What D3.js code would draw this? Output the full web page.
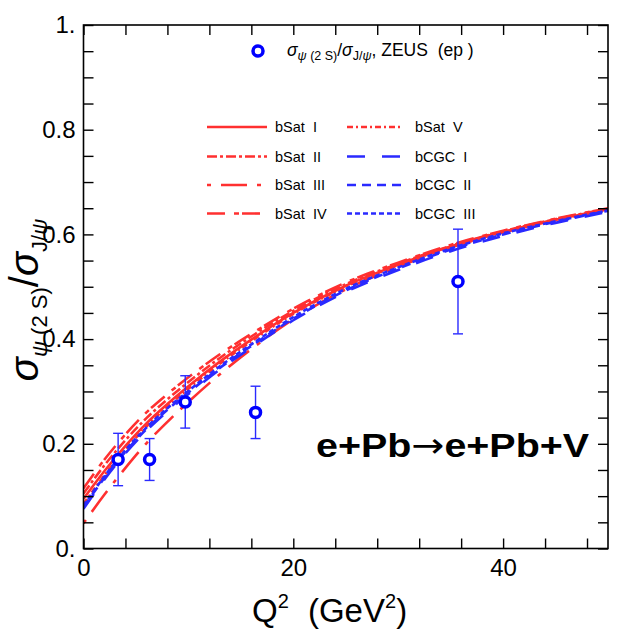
<!DOCTYPE html>
<html>
<head>
<meta charset="utf-8">
<script src="https://cdn.jsdelivr.net/npm/d3@7"></script>
<style>
  body { margin: 0; background: #fff; }
  svg { font-family: "Liberation Sans", Arial, sans-serif; }
</style>
</head>
<body>
<div id="chart"></div>
<script>
// Q^2 grid for the model curves
var q2 = [0, 2, 4, 6, 8, 10, 13, 16, 20, 25, 30, 35, 40, 45, 50];

var bSatI   = [0.095, 0.148, 0.196, 0.239, 0.276, 0.310, 0.357, 0.399, 0.450, 0.502, 0.542, 0.577, 0.605, 0.628, 0.648];
var bSatII  = [0.105, 0.159, 0.207, 0.249, 0.285, 0.318, 0.364, 0.405, 0.454, 0.505, 0.544, 0.578, 0.606, 0.629, 0.649];
var bSatIII = [0.048, 0.103, 0.154, 0.201, 0.242, 0.280, 0.333, 0.381, 0.438, 0.495, 0.538, 0.575, 0.604, 0.628, 0.648];
var bSatIV  = [0.115, 0.170, 0.218, 0.260, 0.295, 0.327, 0.371, 0.410, 0.458, 0.508, 0.546, 0.580, 0.607, 0.630, 0.650];
var bSatV   = [0.085, 0.140, 0.189, 0.233, 0.271, 0.305, 0.353, 0.396, 0.448, 0.500, 0.541, 0.576, 0.604, 0.627, 0.647];
var bCGCI   = [0.076, 0.132, 0.182, 0.225, 0.262, 0.295, 0.342, 0.384, 0.436, 0.490, 0.532, 0.568, 0.597, 0.622, 0.643];
var bCGCII  = [0.079, 0.135, 0.185, 0.228, 0.265, 0.298, 0.345, 0.387, 0.439, 0.493, 0.535, 0.571, 0.600, 0.624, 0.645];
var bCGCIII = [0.082, 0.138, 0.188, 0.231, 0.268, 0.301, 0.348, 0.390, 0.442, 0.496, 0.537, 0.573, 0.602, 0.625, 0.646];

var seriesNames = ["bSat  I", "bSat  II", "bSat  III", "bSat  IV", "bSat  V", "bCGC  I", "bCGC  II", "bCGC  III"];
var seriesValues = [bSatI, bSatII, bSatIII, bSatIV, bSatV, bCGCI, bCGCII, bCGCIII];

// ZEUS ep points
var zeusQ2  = [3.3, 6.3, 9.7, 16.4, 35.7];
var zeusR   = [0.17, 0.17, 0.28, 0.26, 0.51];
var zeusErr = [0.05, 0.04, 0.05, 0.05, 0.10];

var xTicks = [0, 4, 8, 12, 16, 20, 24, 28, 32, 36, 40, 44, 48];
var xLabels = [0, 20, 40];
var yTicks = d3.range(0, 21).map(function (i) { return i * 0.05; });
var yLabels = { "0": "0.", "0.2": "0.2", "0.4": "0.4", "0.6": "0.6", "0.8": "0.8", "1": "1." };

var red = "#ff3030", blue = "#2a2aff";
var colors = [red, red, red, red, red, blue, blue, blue];
var dashes = ["none", "10,3,3,3", "4,10,26,10", "18,9,5,3", "6,3,2,3", "18,17", "9,6", "5,3"];

var W = 638, H = 632;
var svg = d3.select("#chart").append("svg").attr("width", W).attr("height", H);

var x = d3.scaleLinear().domain([0, 50]).range([83.5, 608]);
var y = d3.scaleLinear().domain([0, 1]).range([548.5, 25]);

// curves
var line = d3.line()
	.x(function (d) { return x(d[0]); })
	.y(function (d) { return y(d[1]); })
	.curve(d3.curveMonotoneX);

svg.append("defs").append("clipPath").attr("id", "clip")
	.append("rect").attr("x", x(0)).attr("y", y(1)).attr("width", x(50) - x(0)).attr("height", y(0) - y(1));

var plot = svg.append("g").attr("clip-path", "url(#clip)");
seriesValues.forEach(function (vals, i) {
	plot.append("path")
		.datum(q2.map(function (q, j) { return [q, vals[j]]; }))
		.attr("d", line)
		.attr("fill", "none")
		.attr("stroke", colors[i])
		.attr("stroke-width", 2.6)
		.attr("stroke-dasharray", dashes[i]);
});

// data points with error bars
var pts = svg.append("g");
zeusQ2.forEach(function (q, i) {
	var cx = x(q);
	pts.append("line").attr("x1", cx).attr("x2", cx)
		.attr("y1", y(zeusR[i] - zeusErr[i])).attr("y2", y(zeusR[i] + zeusErr[i]))
		.attr("stroke", blue).attr("stroke-width", 1.4);
	[zeusR[i] - zeusErr[i], zeusR[i] + zeusErr[i]].forEach(function (v) {
		pts.append("line").attr("x1", cx - 5).attr("x2", cx + 5)
			.attr("y1", y(v)).attr("y2", y(v))
			.attr("stroke", blue).attr("stroke-width", 1.4);
	});
	pts.append("circle").attr("cx", cx).attr("cy", y(zeusR[i])).attr("r", 5)
		.attr("fill", "white").attr("stroke", "#0000ff").attr("stroke-width", 3.5);
});

// axes, ticks pointing inward
var fmtX = function (d) { return xLabels.indexOf(d) >= 0 ? d : ""; };
var fmtY = function (d) { var k = String(+d.toFixed(2)); return yLabels[k] || ""; };

svg.append("g").attr("transform", "translate(0," + y(0) + ")")
	.call(d3.axisBottom(x).tickValues(xTicks).tickSizeInner(-10).tickSizeOuter(0).tickPadding(10).tickFormat(fmtX));
svg.append("g").attr("transform", "translate(0," + y(1) + ")")
	.call(d3.axisTop(x).tickValues(xTicks).tickSizeInner(-10).tickSizeOuter(0).tickFormat(""));
svg.append("g").attr("transform", "translate(" + x(0) + ",0)")
	.call(d3.axisLeft(y).tickValues(yTicks).tickSizeInner(-10).tickSizeOuter(0).tickPadding(8).tickFormat(fmtY));
svg.append("g").attr("transform", "translate(" + x(50) + ",0)")
	.call(d3.axisRight(y).tickValues(yTicks).tickSizeInner(-10).tickSizeOuter(0).tickFormat(""));

svg.selectAll(".domain").remove();
svg.selectAll(".tick line").attr("stroke", "#000").attr("stroke-width", 1.4);
svg.selectAll(".tick text").attr("font-size", 24).attr("fill", "#000")
	.attr("font-family", "'Liberation Sans', Arial, sans-serif");

svg.append("rect").attr("x", x(0)).attr("y", y(1))
	.attr("width", x(50) - x(0)).attr("height", y(0) - y(1))
	.attr("fill", "none").attr("stroke", "#000").attr("stroke-width", 1.6);

// axis titles
var xt = svg.append("text").attr("x", 252).attr("y", 622).attr("font-size", 33)
	.attr("xml:space", "preserve");
xt.append("tspan").text("Q");
xt.append("tspan").attr("font-size", 20).attr("dy", -14).text("2");
xt.append("tspan").attr("dy", 14).attr("dx", 10).text(" (GeV");
xt.append("tspan").attr("font-size", 20).attr("dy", -14).text("2");
xt.append("tspan").attr("dy", 14).text(")");

var yt = svg.append("text").attr("transform", "translate(38,300) rotate(-90)")
	.attr("text-anchor", "middle").attr("font-size", 40).attr("xml:space", "preserve");
yt.append("tspan").attr("font-style", "italic").text("σ");
yt.append("tspan").attr("font-size", 22).attr("dy", 9).attr("font-style", "italic").text("ψ");
yt.append("tspan").attr("font-size", 22).text(" (2 S)");
yt.append("tspan").attr("dy", -9).text("/");
yt.append("tspan").attr("font-style", "italic").text("σ");
yt.append("tspan").attr("font-size", 22).attr("dy", 9).text("J/");
yt.append("tspan").attr("font-size", 22).attr("font-style", "italic").text("ψ");

// data legend
svg.append("circle").attr("cx", 258).attr("cy", 51).attr("r", 5)
	.attr("fill", "white").attr("stroke", "#0000ff").attr("stroke-width", 3.5);
var lt = svg.append("text").attr("x", 287).attr("y", 56).attr("font-size", 17.5)
	.attr("xml:space", "preserve");
lt.append("tspan").attr("font-style", "italic").text("σ");
lt.append("tspan").attr("font-size", 12.5).attr("dy", 4).attr("font-style", "italic").text("ψ");
lt.append("tspan").attr("font-size", 12.5).text(" (2 S)");
lt.append("tspan").attr("dy", -4).text("/");
lt.append("tspan").attr("font-style", "italic").text("σ");
lt.append("tspan").attr("font-size", 12.5).attr("dy", 4).text("J/");
lt.append("tspan").attr("font-size", 12.5).attr("font-style", "italic").text("ψ");
lt.append("tspan").attr("dy", -4).text(", ZEUS  (ep )");

// model legend: two columns of four
var legRowY = [127, 156.5, 185, 213.5];
seriesNames.forEach(function (name, i) {
	var col = i < 4 ? 0 : 1, row = i % 4;
	var x0 = col === 0 ? 207 : 347, x1 = col === 0 ? 267 : 403, tx = col === 0 ? 275 : 415;
	svg.append("line").attr("x1", x0).attr("x2", x1)
		.attr("y1", legRowY[row]).attr("y2", legRowY[row])
		.attr("stroke", colors[i]).attr("stroke-width", 2.6)
		.attr("stroke-dasharray", dashes[i]);
	svg.append("text").attr("x", tx).attr("y", legRowY[row] + 5)
		.attr("font-size", 14.5).attr("xml:space", "preserve")
		.style("white-space", "pre").text(name);
});

// reaction label, slightly stretched like the original
var rl = svg.append("text").attr("transform", "translate(316,457) scale(1.16,1)")
	.attr("font-size", 34).attr("font-weight", "bold");
rl.append("tspan").text("e+Pb");
rl.append("tspan").attr("font-family", "'DejaVu Sans', sans-serif").attr("font-weight", "normal").text("→");
rl.append("tspan").text("e+Pb+V");
</script>
</body>
</html>
